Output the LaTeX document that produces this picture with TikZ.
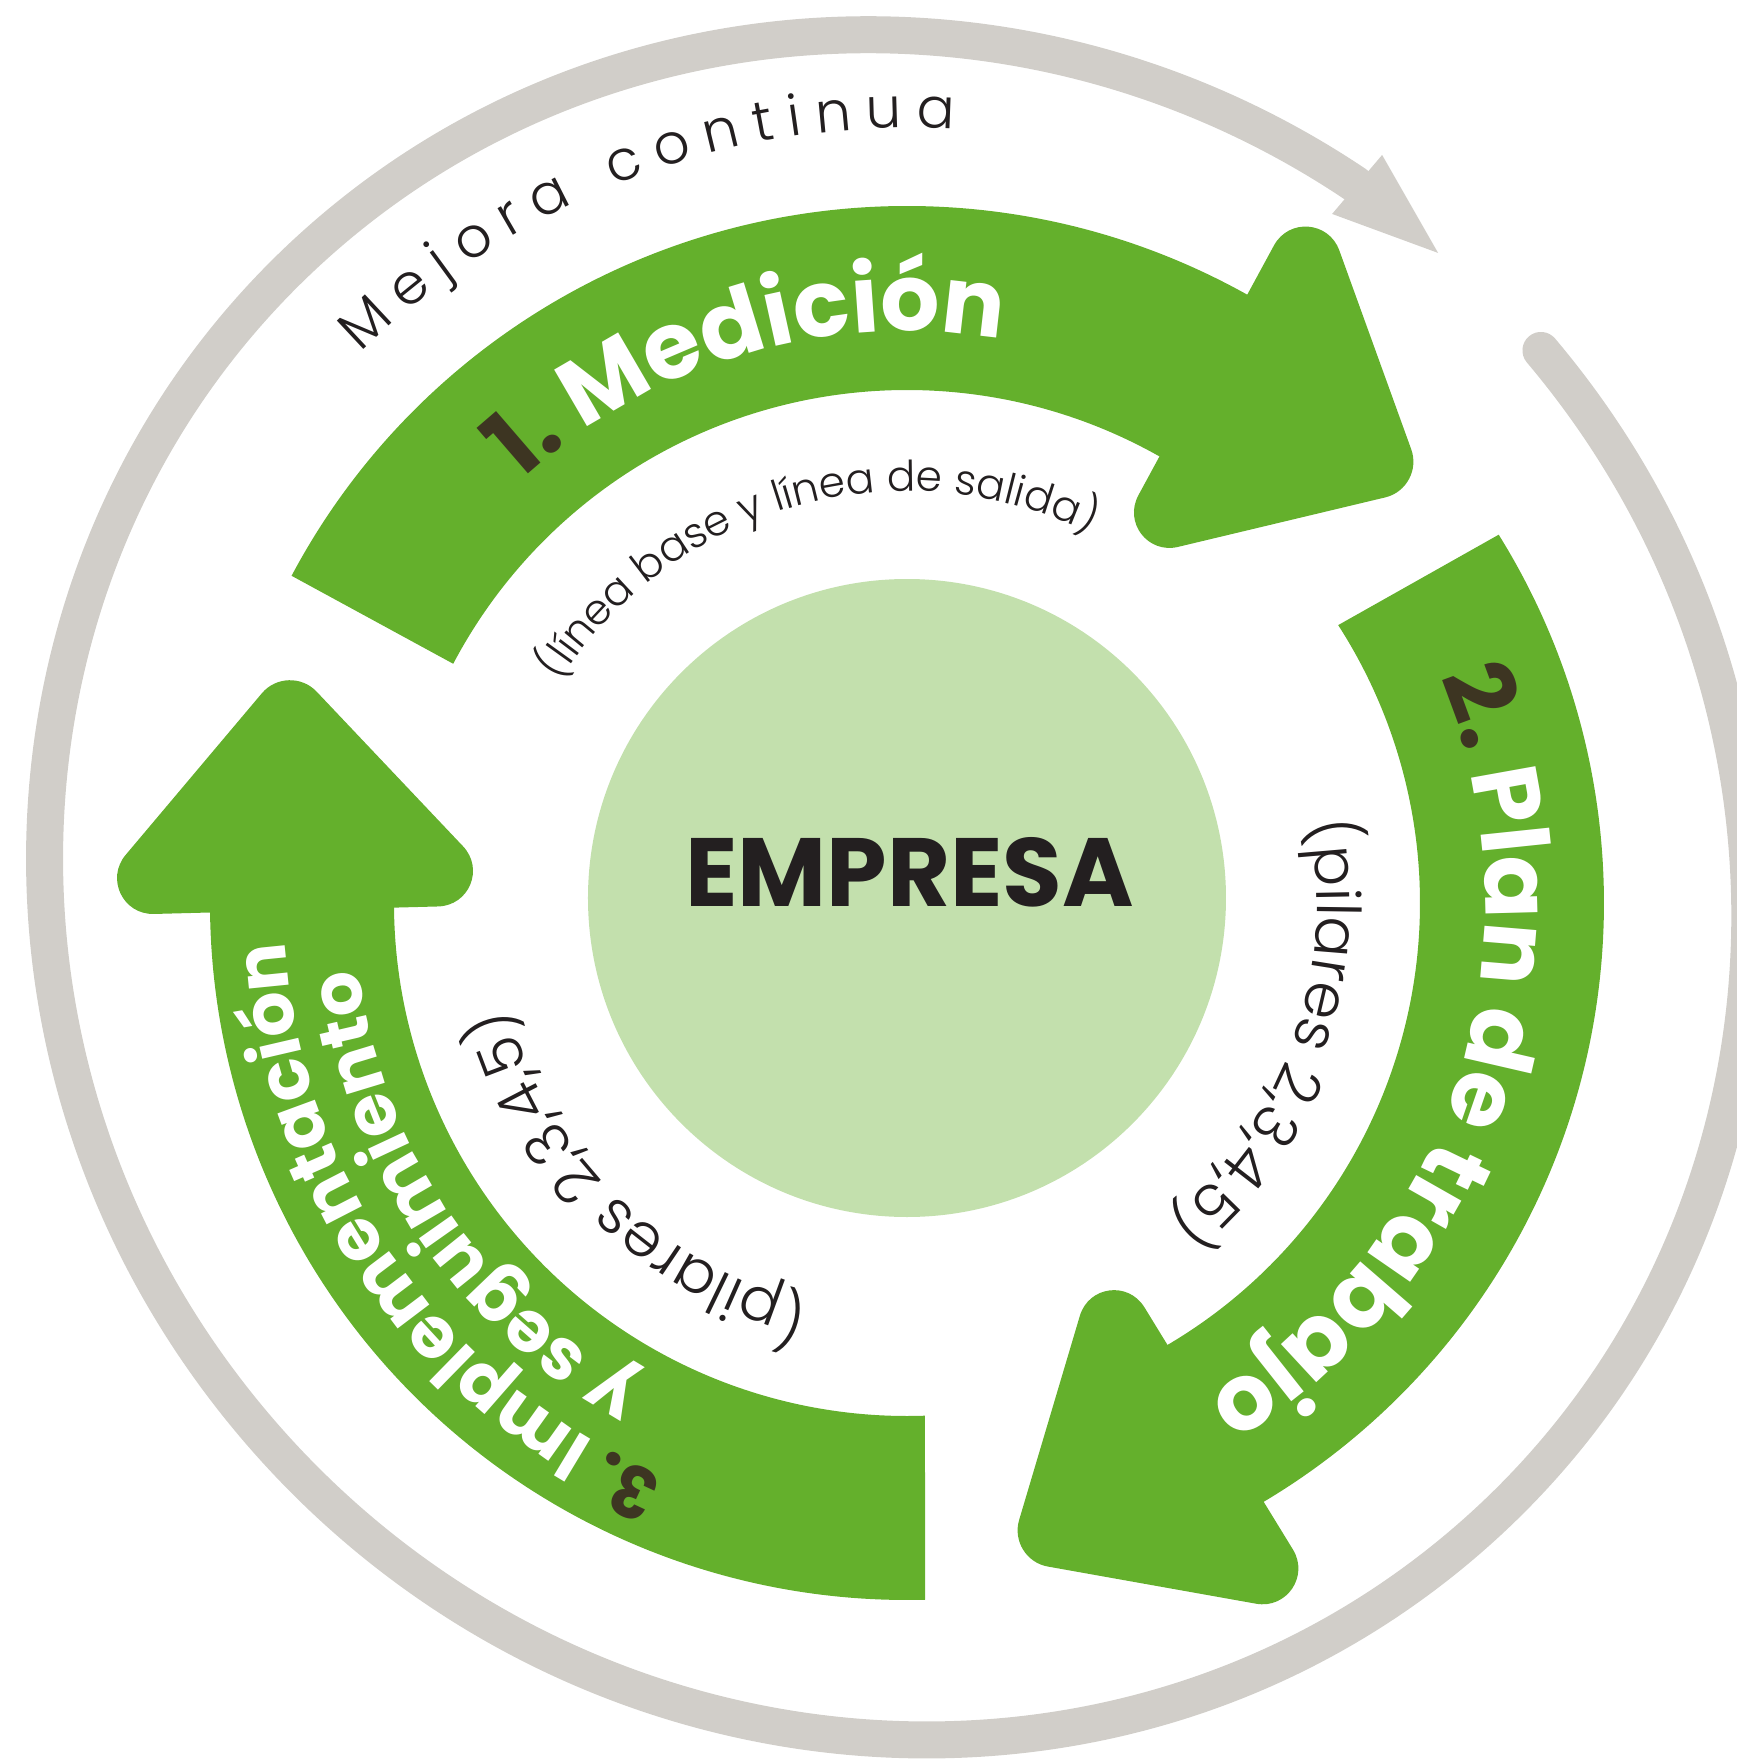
\documentclass[tikz,border=0pt]{standalone}
\usepackage{fontspec}
\setmainfont{Poppins}
\newfontfamily\poplight{Poppins}[UprightFont=* Light]
\usetikzlibrary{decorations.text,calc}
\definecolor{greenc}{HTML}{64B02C}
\definecolor{lightg}{HTML}{C3E0AD}
\definecolor{grayc}{HTML}{D1CEC9}
\definecolor{numc}{HTML}{3D3522}
\definecolor{txtc}{HTML}{231F20}
\newcommand\fbig{\fontsize{26.5pt}{30pt}\selectfont\bfseries}
\newcommand\fmid{\fontsize{20.3pt}{24pt}\selectfont\bfseries}
\newcommand\fsmall{\poplight\fontsize{12pt}{14pt}\selectfont}
\newcommand\fpil{\poplight\fontsize{17.2pt}{20pt}\selectfont}
\newcommand\fmej{\poplight\fontsize{16pt}{19pt}\selectfont}
\begin{document}
\begin{tikzpicture}[x=0.1mm,y=0.1mm]
\useasboundingbox (-907,-861) rectangle (830,903);
% grey continuous-improvement ring (slightly oval, tilted)
\begin{scope}[shift={(-9.8,15.7)}, rotate=45]
  \draw[grayc, line width=3.7mm, line cap=round] (-5:838 and 867)
    arc[start angle=-5, end angle=-348.5, x radius=838, y radius=867];
  \path (11.5:838 and 867) coordinate (E);
\end{scope}
\fill[grayc, shift={(E)}] (26.5,29.5) -- (-23.5,-29.5) -- (82.5,-68.5) -- cycle;
% green arrows
\foreach \r/\so/\si in {0/152/152.2, 120/151.9/152.8, 240/151.5/152}{
  \fill[greenc] (\so-\r:697) arc[start angle=\so-\r, end angle=60-\r, radius=697]
     -- (60-\r:513) arc[start angle=60-\r, end angle=\si-\r, radius=513] -- cycle;
  \path (38.7-\r:664) coordinate (hT) (60.9-\r:833) coordinate (hO) (60.2-\r:389) coordinate (hI);
  \path ($(hT)!4.1mm!(hO)$) coordinate (t1) ($(hT)!4.1mm!(hI)$) coordinate (t2)
        ($(hI)!8mm!(hT)$) coordinate (i1) ($(hI)!8mm!(hO)$) coordinate (i2)
        ($(hO)!8mm!(hI)$) coordinate (o1) ($(hO)!8mm!(hT)$) coordinate (o2);
  \fill[greenc] (o2) -- (t1) .. controls ($(t1)!0.53!(hT)$) and ($(t2)!0.53!(hT)$) .. (t2)
     -- (i1) .. controls ($(i1)!0.39!(hI)$) and ($(i2)!0.39!(hI)$) .. (i2)
     -- (o1) .. controls ($(o1)!0.39!(hO)$) and ($(o2)!0.39!(hO)$) .. (o2) -- cycle;
}
% centre
\fill[lightg] (0,5) circle[radius=319];
\node[inner sep=0pt, anchor=base, text=txtc, font=\fontsize{27.6pt}{30pt}\selectfont\bfseries] (emp) at (2.5,-3) {EMPRESA};
% curved texts
\path[decorate, decoration={text along path, text align=fit to path,
  text={|\fmej\color{txtc}|Mejora continua}}]
  (134.8:775) arc[start angle=134.8, end angle=86.5, radius=775];
\path[decorate, decoration={text along path, text align=center,
  text={|\fbig\color{numc}|1. |\fbig\color{white}|Medición}}]
  (170:572) arc[start angle=170, end angle=43, radius=572];
\path[decorate, decoration={text along path, text align=center,
  text={|\fbig\color{numc}|2. |\fbig\color{white}|Plan de trabajo}}]
  (55:578) arc[start angle=55, end angle=-91, radius=578];
\path[decorate, decoration={text along path, text align=center,
  text={|\fmid\color{numc}|3. |\fmid\color{white}|Implementación}}]
  (-72:623) arc[start angle=-72, end angle=-217.4, radius=623];
\path[decorate, decoration={text along path, text align=center,
  text={|\fmid\color{white}|y seguimiento}}]
  (-76:552) arc[start angle=-76, end angle=-216, radius=552];
\path[decorate, decoration={text along path, text align=center,
  text={|\fsmall\color{txtc}|(línea base y línea de salida)}}]
  (165:412) arc[start angle=165, end angle=46, radius=412];
\path[decorate, decoration={text along path, text align=center,
  text={|\fpil\color{txtc}|(pilares 2,3,4,5)}}]
  (41:410) arc[start angle=41, end angle=-80.2, radius=410];
\path[decorate, decoration={text along path, text align=center,
  text={|\fpil\color{txtc}|(pilares 2,3,4,5)}}]
  (-75:412) arc[start angle=-75, end angle=-194, radius=412];
\end{tikzpicture}
\end{document}
